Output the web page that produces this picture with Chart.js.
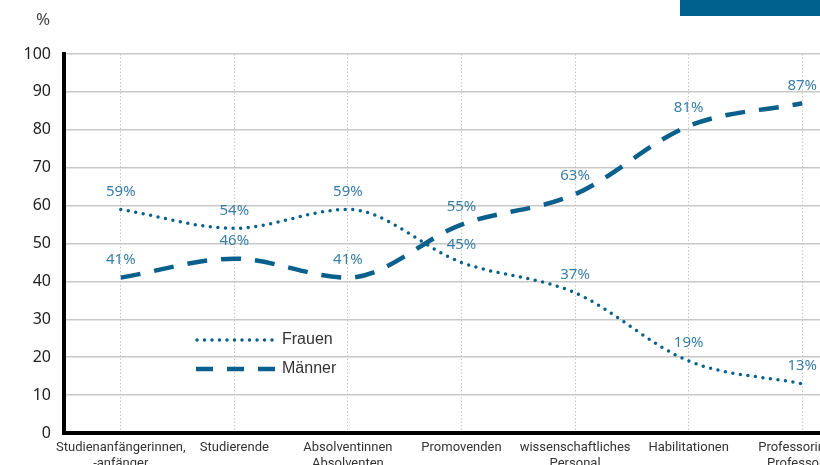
<!DOCTYPE html>
<html>
<head>
<meta charset="utf-8">
<script src="https://cdn.jsdelivr.net/npm/chart.js@4"></script>
<style>
  html, body { margin: 0; padding: 0; overflow: hidden; background: #fff; }
  #wrap { width: 880px; height: 480px; }
</style>
</head>
<body>
<div id="wrap"><canvas id="genderChart" width="880" height="480"></canvas></div>
<script>
const categories = [
  ['Studienanfängerinnen,', '-anfänger'],
  'Studierende',
  ['Absolventinnen', 'Absolventen'],
  'Promovenden',
  ['wissenschaftliches', 'Personal'],
  'Habilitationen',
  ['Professorinnen', 'Professoren']
];
const frauen = [59, 54, 59, 45, 37, 19, 13];
const maenner = [41, 46, 41, 55, 63, 81, 87];
const yTicks = [0, 10, 20, 30, 40, 50, 60, 70, 80, 90, 100];

const blue = '#09608c';
const labelBlue = '#3a7ea6';

// percentage labels above every point
const pointLabels = {
  id: 'pointLabels',
  afterDatasetsDraw(chart) {
    const c = chart.ctx;
    c.save();
    c.font = '15px "Noto Sans"';
    c.fillStyle = labelBlue;
    c.textAlign = 'center';
    c.textBaseline = 'middle';
    chart.data.datasets.forEach((ds, i) => {
      chart.getDatasetMeta(i).data.forEach((pt, j) => {
        c.fillText(ds.data[j] + '%', pt.x, pt.y - 18);
      });
    });
    c.restore();
  }
};

// legend inside plot, unit label, header block
const extras = {
  id: 'extras',
  afterDraw(chart) {
    const c = chart.ctx;
    c.save();
    c.fillStyle = '#00618f';
    c.fillRect(680, 0, 200, 16);

    c.fillStyle = '#444';
    c.font = '17px "Noto Sans"';
    c.textAlign = 'center';
    c.textBaseline = 'middle';
    c.fillText('%', 43, 20);

    c.strokeStyle = blue;
    c.lineWidth = 3.5;
    c.lineCap = 'round';
    c.setLineDash([0, 7.5]);
    c.beginPath(); c.moveTo(197, 340); c.lineTo(276, 340); c.stroke();

    c.lineWidth = 4.5;
    c.lineCap = 'butt';
    c.setLineDash([17, 14]);
    c.beginPath(); c.moveTo(196, 369); c.lineTo(276, 369); c.stroke();
    c.setLineDash([]);

    c.fillStyle = '#333';
    c.font = '16px "Liberation Sans"';
    c.textAlign = 'left';
    c.fillText('Frauen', 282, 340);
    c.fillText('Männer', 282, 369);
    c.restore();
  }
};

new Chart(document.getElementById('genderChart'), {
  type: 'line',
  data: {
    labels: categories,
    datasets: [{
      label: 'Frauen',
      data: frauen,
      borderColor: blue,
      borderWidth: 3.5,
      borderDash: [0, 7.6],
      borderCapStyle: 'round',
      cubicInterpolationMode: 'monotone',
      pointRadius: 0,
      fill: false
    }, {
      label: 'Männer',
      data: maenner,
      borderColor: blue,
      borderWidth: 4.5,
      borderDash: [20, 14],
      cubicInterpolationMode: 'monotone',
      pointRadius: 0,
      fill: false
    }]
  },
  options: {
    responsive: false,
    animation: false,
    layout: { padding: { top: 54, right: 21, left: 0, bottom: 0 } },
    plugins: {
      legend: { display: false },
      tooltip: { enabled: false }
    },
    scales: {
      x: {
        offset: true,
        grid: {
          offset: false,
          color: '#c4c4c4',
          lineWidth: 1,
          drawTicks: false
        },
        border: { display: true, color: '#000', width: 4, dash: [1.5, 2] },
        ticks: {
          color: '#333',
          font: { family: 'Roboto', size: 13 },
          padding: 7,
          maxRotation: 0,
          autoSkip: false
        },
        afterFit(scale) { scale.height = 47; }
      },
      y: {
        min: 0,
        max: 100,
        afterBuildTicks(scale) { scale.ticks = yTicks.map(v => ({ value: v })); },
        grid: { color: '#c8c8c8', lineWidth: 1.5, drawTicks: false },
        border: { display: true, color: '#000', width: 4 },
        ticks: {
          color: '#222',
          font: { family: 'Noto Sans', size: 16 },
          padding: 13
        },
        afterFit(scale) { scale.width = 64; }
      }
    }
  },
  plugins: [pointLabels, extras]
});
</script>
</body>
</html>
